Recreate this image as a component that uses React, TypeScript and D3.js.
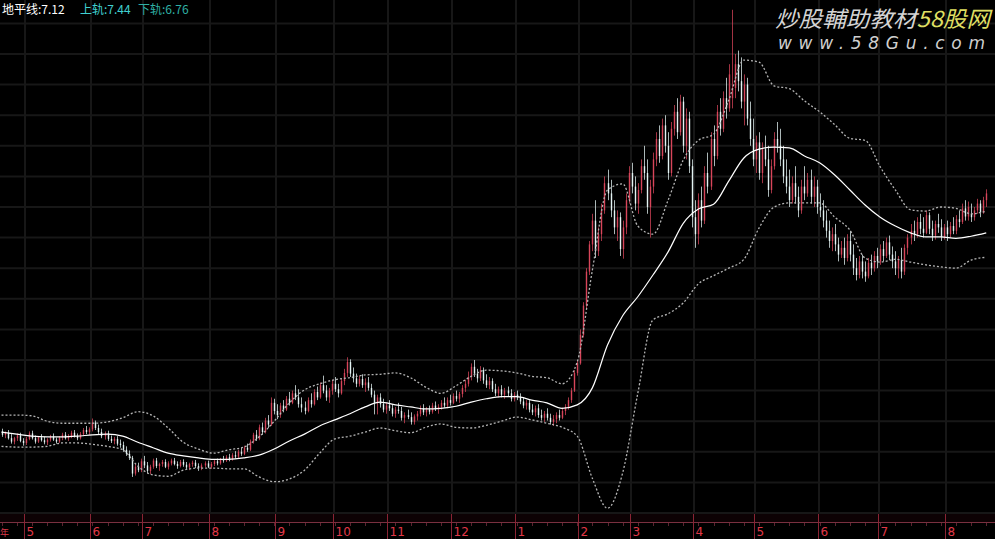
import React from 'react';
import * as d3 from 'd3';

const W = 995;
const H = 539;

// daily candles: [open, high, low, close]
const ohlc: [number, number, number, number][] = [
  [4.20,4.24,4.12,4.15],[4.15,4.20,4.10,4.18],[4.18,4.22,4.08,4.10],[4.10,4.16,4.02,4.05],[4.05,4.12,4.01,4.10],
  [4.10,4.17,4.06,4.14],[4.14,4.18,4.04,4.06],[4.06,4.10,3.99,4.03],[4.03,4.12,4.00,4.09],[4.09,4.20,4.07,4.17],
  [4.17,4.21,4.08,4.10],[4.10,4.14,4.02,4.05],[4.05,4.13,4.03,4.11],[4.11,4.16,4.05,4.07],[4.07,4.12,4.01,4.04],
  [4.04,4.10,4.00,4.08],[4.08,4.15,4.05,4.12],[4.12,4.17,4.06,4.08],[4.08,4.11,4.02,4.05],[4.05,4.13,4.03,4.11],
  [4.11,4.18,4.07,4.15],[4.15,4.19,4.08,4.10],[4.10,4.16,4.06,4.13],[4.13,4.21,4.10,4.18],[4.18,4.22,4.11,4.13],
  [4.13,4.17,4.07,4.10],[4.10,4.19,4.08,4.16],[4.16,4.25,4.13,4.22],[4.22,4.28,4.16,4.19],[4.19,4.26,4.15,4.23],
  [4.23,4.39,4.20,4.33],[4.33,4.36,4.22,4.25],[4.25,4.30,4.16,4.19],[4.19,4.24,4.10,4.13],[4.13,4.20,4.08,4.17],
  [4.17,4.21,4.06,4.09],[4.09,4.14,4.03,4.06],[4.06,4.12,4.01,4.09],[4.09,4.13,3.99,4.02],[4.02,4.08,3.96,4.00],
  [4.00,4.05,3.90,3.93],[3.93,3.98,3.84,3.87],[3.87,3.92,3.78,3.81],[3.81,3.84,3.53,3.58],[3.58,3.72,3.55,3.68],
  [3.68,3.74,3.60,3.63],[3.63,3.80,3.60,3.76],[3.76,3.84,3.66,3.70],[3.70,3.75,3.58,3.62],[3.62,3.71,3.57,3.68],
  [3.68,3.80,3.65,3.77],[3.77,3.81,3.66,3.69],[3.69,3.74,3.62,3.72],[3.72,3.78,3.68,3.75],[3.75,3.79,3.66,3.68],
  [3.68,3.76,3.64,3.73],[3.73,3.80,3.70,3.77],[3.77,3.81,3.70,3.72],[3.72,3.76,3.65,3.69],[3.69,3.78,3.67,3.75],
  [3.75,3.79,3.68,3.71],[3.71,3.75,3.64,3.67],[3.67,3.74,3.63,3.72],[3.72,3.77,3.68,3.74],[3.74,3.78,3.66,3.69],
  [3.69,3.73,3.62,3.66],[3.66,3.73,3.63,3.70],[3.70,3.76,3.67,3.73],[3.73,3.77,3.66,3.68],[3.68,3.75,3.65,3.72],
  [3.72,3.79,3.69,3.76],[3.76,3.80,3.70,3.73],[3.73,3.81,3.71,3.79],[3.79,3.84,3.74,3.77],[3.77,3.85,3.75,3.82],
  [3.82,3.87,3.76,3.79],[3.79,3.88,3.77,3.85],[3.85,3.91,3.80,3.83],[3.83,3.93,3.81,3.90],[3.90,3.96,3.84,3.87],
  [3.87,3.99,3.85,3.96],[3.96,4.02,3.90,3.93],[3.93,4.08,3.91,4.05],[4.05,4.18,4.02,4.15],[4.15,4.22,4.06,4.09],
  [4.09,4.30,4.07,4.26],[4.26,4.33,4.15,4.19],[4.19,4.40,4.17,4.36],[4.36,4.44,4.25,4.30],[4.30,4.70,4.28,4.62],
  [4.62,4.68,4.45,4.50],[4.50,4.60,4.38,4.44],[4.44,4.62,4.40,4.58],[4.58,4.66,4.48,4.52],[4.52,4.72,4.50,4.68],
  [4.68,4.78,4.58,4.62],[4.62,4.80,4.60,4.76],[4.76,4.88,4.66,4.70],[4.70,4.82,4.55,4.60],[4.60,4.70,4.48,4.55],
  [4.55,4.64,4.45,4.50],[4.50,4.70,4.48,4.66],[4.66,4.76,4.55,4.60],[4.60,4.82,4.58,4.78],[4.78,4.86,4.66,4.70],
  [4.70,4.92,4.68,4.88],[4.88,5.02,4.76,4.80],[4.80,4.88,4.65,4.70],[4.70,4.84,4.62,4.80],[4.80,4.96,4.74,4.90],
  [4.90,5.00,4.78,4.82],[4.82,4.90,4.70,4.76],[4.76,4.98,4.74,4.94],[4.94,5.12,4.88,5.06],[5.06,5.29,5.00,5.22],
  [5.22,5.26,5.00,5.05],[5.05,5.14,4.92,4.98],[4.98,5.05,4.85,4.90],[4.90,5.02,4.86,4.97],[4.97,5.04,4.84,4.88],
  [4.88,4.98,4.78,4.92],[4.92,5.00,4.80,4.84],[4.84,4.90,4.70,4.74],[4.74,4.80,4.45,4.62],[4.62,4.74,4.45,4.70],
  [4.70,4.76,4.55,4.60],[4.60,4.68,4.48,4.52],[4.52,4.62,4.46,4.58],[4.58,4.66,4.50,4.54],[4.54,4.60,4.42,4.46],
  [4.46,4.56,4.40,4.52],[4.52,4.62,4.46,4.50],[4.50,4.56,4.36,4.40],[4.40,4.48,4.32,4.44],[4.44,4.52,4.38,4.41],
  [4.41,4.48,4.30,4.34],[4.34,4.45,4.30,4.42],[4.42,4.50,4.36,4.46],[4.46,4.58,4.42,4.54],[4.54,4.60,4.44,4.48],
  [4.48,4.56,4.42,4.52],[4.52,4.58,4.45,4.49],[4.49,4.62,4.46,4.58],[4.58,4.64,4.50,4.53],[4.53,4.60,4.46,4.56],
  [4.56,4.66,4.52,4.62],[4.62,4.70,4.55,4.58],[4.58,4.70,4.54,4.66],[4.66,4.74,4.58,4.62],[4.62,4.76,4.60,4.72],
  [4.72,4.80,4.64,4.68],[4.68,4.78,4.62,4.75],[4.75,4.88,4.70,4.84],[4.84,4.96,4.78,4.90],[4.90,5.08,4.86,5.00],
  [5.00,5.20,4.95,5.15],[5.15,5.25,5.00,5.05],[5.05,5.12,4.92,4.98],[4.98,5.16,4.94,5.10],[5.10,5.14,4.90,4.95],
  [4.95,5.04,4.84,4.88],[4.88,5.00,4.82,4.94],[4.94,4.98,4.78,4.82],[4.82,4.90,4.72,4.76],[4.76,4.86,4.70,4.82],
  [4.82,4.88,4.70,4.74],[4.74,4.84,4.68,4.80],[4.80,4.86,4.72,4.76],[4.76,4.82,4.64,4.68],[4.68,4.78,4.64,4.74],
  [4.74,4.80,4.66,4.70],[4.70,4.76,4.60,4.64],[4.64,4.70,4.54,4.58],[4.58,4.66,4.52,4.62],[4.62,4.66,4.48,4.52],
  [4.52,4.60,4.44,4.48],[4.48,4.58,4.42,4.54],[4.54,4.60,4.40,4.44],[4.44,4.52,4.36,4.40],[4.40,4.50,4.34,4.46],
  [4.46,4.54,4.36,4.40],[4.40,4.46,4.30,4.34],[4.34,4.44,4.28,4.38],[4.38,4.48,4.32,4.44],[4.44,4.52,4.36,4.40],
  [4.40,4.55,4.38,4.50],[4.50,4.60,4.44,4.56],[4.56,4.70,4.52,4.66],[4.66,4.84,4.62,4.80],[4.80,5.10,4.78,5.06],
  [5.06,5.25,5.02,5.20],[5.20,5.70,5.18,5.62],[5.62,6.10,5.58,6.05],[6.05,6.60,6.00,6.55],[6.55,7.00,6.50,6.95],
  [6.95,7.40,6.85,7.30],[7.30,7.60,6.75,6.85],[6.85,7.20,6.78,7.10],[7.10,7.55,7.00,7.45],[7.45,7.95,7.40,7.85],
  [7.85,8.05,7.60,7.70],[7.70,7.90,7.35,7.45],[7.45,7.60,7.10,7.20],[7.20,7.45,7.00,7.35],[7.35,7.42,6.78,6.88],
  [6.88,7.30,6.74,7.20],[7.20,7.70,7.10,7.60],[7.60,8.10,7.55,8.00],[8.00,8.15,7.70,7.80],[7.80,7.95,7.45,7.55],
  [7.55,7.85,7.40,7.75],[7.75,8.20,7.70,8.10],[8.10,8.40,7.90,8.00],[8.00,8.20,7.40,7.50],[7.50,7.90,7.05,7.80],
  [7.80,8.30,7.70,8.20],[8.20,8.60,8.10,8.50],[8.50,8.70,8.15,8.25],[8.25,8.80,8.20,8.70],[8.70,8.85,8.30,8.40],
  [8.40,8.60,7.90,8.00],[8.00,8.75,7.95,8.65],[8.65,9.00,8.55,8.90],[8.90,9.10,8.50,8.60],[8.60,9.15,8.55,9.05],
  [9.05,9.12,8.30,8.40],[8.40,8.95,8.20,8.80],[8.80,8.90,8.00,8.10],[8.10,8.20,7.20,7.35],[7.35,7.60,6.90,7.10],
  [7.10,7.70,6.95,7.60],[7.60,7.80,7.20,7.30],[7.30,8.10,7.25,8.00],[8.00,8.30,7.70,7.80],[7.80,8.60,7.75,8.50],
  [8.50,8.70,8.10,8.25],[8.25,9.00,8.20,8.90],[8.90,9.10,8.55,8.65],[8.65,9.20,8.60,9.10],[9.10,9.40,8.80,8.95],
  [8.95,9.60,8.90,9.45],[9.10,10.40,8.95,9.25],[9.25,9.75,9.10,9.60],[9.60,9.80,9.20,9.35],[9.35,9.70,8.95,9.05],
  [9.05,9.45,8.70,9.30],[9.30,9.40,8.70,8.80],[8.80,9.05,8.40,8.50],[8.50,8.80,8.10,8.20],[8.20,8.55,8.00,8.45],
  [8.45,8.60,7.90,8.00],[8.00,8.45,7.85,8.35],[8.35,8.55,8.10,8.20],[8.20,8.40,7.65,7.75],[7.75,8.20,7.70,8.10],
  [8.10,8.60,8.05,8.50],[8.50,8.75,8.30,8.40],[8.40,8.65,8.10,8.20],[8.20,8.40,7.85,7.95],[7.95,8.20,7.70,7.80],
  [7.80,8.05,7.50,7.60],[7.60,7.95,7.55,7.85],[7.85,8.10,7.55,7.65],[7.65,7.80,7.35,7.45],[7.45,7.90,7.40,7.80],
  [7.80,8.10,7.60,7.70],[7.70,8.00,7.65,7.90],[7.90,8.05,7.55,7.65],[7.65,7.95,7.50,7.80],[7.80,7.90,7.40,7.50],
  [7.50,7.70,7.35,7.45],[7.45,7.60,7.20,7.30],[7.30,7.45,7.05,7.15],[7.15,7.30,6.90,7.00],[7.00,7.20,6.85,7.10],
  [7.10,7.25,6.85,6.95],[6.95,7.05,6.70,6.80],[6.80,7.00,6.75,6.90],[6.90,7.05,6.65,6.75],[6.75,7.10,6.70,7.00],
  [7.00,7.15,6.70,6.80],[6.80,6.95,6.50,6.60],[6.60,6.75,6.42,6.50],[6.50,6.78,6.45,6.70],[6.70,6.80,6.45,6.55],
  [6.55,6.70,6.40,6.48],[6.48,6.75,6.45,6.68],[6.68,6.80,6.50,6.60],[6.60,6.85,6.55,6.78],[6.78,6.90,6.60,6.70],
  [6.70,6.95,6.65,6.88],[6.88,7.00,6.70,6.78],[6.78,7.05,6.75,6.98],[6.98,7.08,6.72,6.80],[6.80,6.92,6.60,6.70],
  [6.70,6.85,6.50,6.60],[6.60,6.78,6.45,6.72],[6.72,6.90,6.45,6.55],[6.55,6.95,6.50,6.90],[6.90,7.10,6.80,7.05],
  [7.05,7.25,6.95,7.15],[7.15,7.30,7.00,7.10],[7.10,7.35,7.05,7.28],[7.28,7.40,7.10,7.18],[7.18,7.35,7.05,7.12],
  [7.12,7.45,7.10,7.38],[7.38,7.42,7.10,7.18],[7.18,7.30,7.00,7.08],[7.08,7.30,7.02,7.25],[7.25,7.40,7.12,7.20],
  [7.20,7.32,7.00,7.06],[7.06,7.25,7.02,7.20],[7.20,7.30,7.00,7.10],[7.10,7.28,7.05,7.22],[7.22,7.35,7.10,7.15],
  [7.15,7.38,7.10,7.32],[7.32,7.45,7.20,7.28],[7.28,7.55,7.25,7.48],[7.48,7.60,7.30,7.36],[7.36,7.58,7.30,7.50],
  [7.40,7.55,7.28,7.35],[7.35,7.50,7.30,7.45],[7.45,7.62,7.40,7.55],[7.55,7.60,7.35,7.42],[7.42,7.65,7.40,7.60],
  [7.60,7.76,7.50,7.70],
];

// indicator values sampled every 5 trading days
const bandStep = 5;
const midLine = [
  4.19,4.16,4.13,4.12,4.12,4.13,4.15,4.16,4.13,4.04,3.96,3.88,3.84,3.81,3.79,3.79,3.81,3.85,3.94,4.06,
  4.16,4.28,4.37,4.46,4.56,4.63,4.59,4.56,4.53,4.54,4.57,4.63,4.68,4.71,4.71,4.66,4.62,4.54,4.59,4.84,
  5.47,5.90,6.18,6.50,6.84,7.26,7.47,7.54,7.88,8.22,8.35,8.38,8.37,8.25,8.15,7.97,7.75,7.53,7.35,7.22,
  7.12,7.06,7.06,7.04,7.07,7.12,
];
const upperBand = [
  4.44,4.44,4.43,4.35,4.32,4.32,4.32,4.34,4.40,4.49,4.43,4.25,4.04,3.94,3.88,3.93,3.97,4.12,4.35,4.62,
  4.81,4.90,4.96,4.99,5.03,5.04,5.06,4.99,4.85,4.76,4.87,5.01,5.10,5.09,5.06,5.01,4.99,4.90,5.22,6.57,
  7.75,7.84,7.22,7.10,7.60,8.19,8.48,8.57,9.07,9.66,9.63,9.28,9.24,9.06,8.90,8.71,8.51,8.48,8.09,7.75,
  7.46,7.44,7.50,7.48,7.40,7.44,
];
const lowerBand = [
  3.98,3.97,3.97,3.98,4.03,4.03,4.01,3.98,3.93,3.69,3.56,3.54,3.63,3.66,3.66,3.65,3.65,3.53,3.46,3.50,
  3.63,3.88,4.09,4.13,4.19,4.25,4.21,4.18,4.26,4.31,4.26,4.25,4.29,4.35,4.41,4.37,4.32,4.26,4.13,3.51,
  3.07,3.59,4.76,5.84,5.93,6.09,6.37,6.49,6.60,6.73,7.19,7.50,7.56,7.56,7.56,7.35,7.16,6.75,6.69,6.73,
  6.69,6.65,6.62,6.60,6.72,6.76,
];

// first trading day of each month and its label
const monthStarts = [8, 30, 47, 69, 91, 110, 128, 149, 170, 191, 208, 229, 249, 270, 290, 312];
const monthLabels = ['5', '6', '7', '8', '9', '10', '11', '12', '1', '2', '3', '4', '5', '6', '7', '8'];

const gridFrom = 3.0;
const gridStep = 0.45;
const gridCount = 17;

const legendNames = ['地平线', '上轨', '下轨'];
const legendValues = [7.12, 7.44, 6.76];

export default function App() {
  const x = d3.scaleLinear().domain([0, ohlc.length - 1]).range([1.5, 1.5 + 3.03 * (ohlc.length - 1)]);
  const y = d3.scaleLinear().domain([3.0, 10.544]).range([513, 0]);

  const gridValues = d3.range(gridCount).map((k) => gridFrom + k * gridStep);

  const lineGen = d3
    .line<number>()
    .x((_, k) => x(k * bandStep))
    .y((v) => y(v))
    .curve(d3.curveMonotoneX);

  const up = '#d8455a';
  const down = '#e4f4f4';

  const legendColors = ['#ffffff', '#40d0d0', '#2fb0a4'];
  const legendX = [2, 80, 138];

  return (
    <svg
      width={W}
      height={H}
      style={{ position: 'absolute', left: 0, top: 0, background: '#000' }}
      fontFamily="'Noto Sans CJK SC', 'Noto Sans', sans-serif"
    >
      <rect x={0} y={0} width={W} height={H} fill="#000" />
      {/* horizontal grid */}
      {gridValues.map((v, k) => (
        <line key={'h' + k} x1={0} x2={W} y1={y(v)} y2={y(v)} stroke="#171717" strokeWidth={2} />
      ))}
      {/* vertical grid */}
      {monthStarts.map((m, k) => (
        <line key={'v' + k} x1={Math.round(x(m)) - 1} x2={Math.round(x(m)) - 1} y1={0} y2={515} stroke="#171717" strokeWidth={2} />
      ))}
      {/* candles */}
      {ohlc.map(([o, h, l, c], i) => {
        const cx = Math.round(x(i)) + 0.5;
        const col = c >= o ? up : down;
        const top = y(Math.max(o, c));
        const bot = y(Math.min(o, c));
        return (
          <g key={'c' + i}>
            <line x1={cx} x2={cx} y1={y(h)} y2={y(l)} stroke={col} strokeWidth={1} opacity={0.75} />
            <line x1={cx} x2={cx} y1={top} y2={Math.max(bot, top + 1)} stroke={col} strokeWidth={1.4} />
          </g>
        );
      })}
      {/* bands */}
      <path d={lineGen(upperBand) || ''} fill="none" stroke="#b4b4b4" strokeWidth={1.3} strokeDasharray="2 2" />
      <path d={lineGen(lowerBand) || ''} fill="none" stroke="#b4b4b4" strokeWidth={1.3} strokeDasharray="2 2" />
      <path d={lineGen(midLine) || ''} fill="none" stroke="#ffffff" strokeWidth={1.2} />

      {/* bottom axis */}
      <rect x={0} y={514} width={W} height={8} fill="#0d0204" />
      <line x1={0} x2={W} y1={522.5} y2={522.5} stroke="#7a3040" strokeWidth={1} />
      {d3.range(0, ohlc.length, 5).map((i) => (
        <line key={'t' + i} x1={Math.round(x(i)) + 0.5} x2={Math.round(x(i)) + 0.5} y1={523} y2={526} stroke="#5a2430" strokeWidth={1} />
      ))}
      <text x={0} y={536} fontSize={9} fill="#d83848">年</text>
      {monthStarts.map((m, k) => {
        const sx = Math.round(x(m)) - 1.5;
        return (
          <g key={'m' + k}>
            <line x1={sx} x2={sx} y1={514} y2={539} stroke="#8a2434" strokeWidth={1} />
            <text x={sx + 2} y={536} fontSize={12} fill="#e03848" fontFamily="'DejaVu Sans', sans-serif">
              {monthLabels[k]}
            </text>
          </g>
        );
      })}

      {/* legend */}
      {legendNames.map((n, k) => (
        <text key={'l' + k} x={legendX[k]} y={14} fontSize={12} fill={legendColors[k]}>
          {n}:{legendValues[k].toFixed(2)}
        </text>
      ))}

      {/* watermark */}
      <text x={775} y={27} fontSize={22} fontStyle="italic" textLength={215} lengthAdjust="spacingAndGlyphs">
        <tspan fill="#d4d4d4">炒股輔助教材</tspan>
        <tspan fill="#dede62">58股网</tspan>
      </text>
      <text x={778} y={49} fontSize={17} fontStyle="italic" fill="#cfcfcf" textLength={207} lengthAdjust="spacing"
        fontFamily="'DejaVu Sans', sans-serif">
        www.58Gu.com
      </text>
    </svg>
  );
}
